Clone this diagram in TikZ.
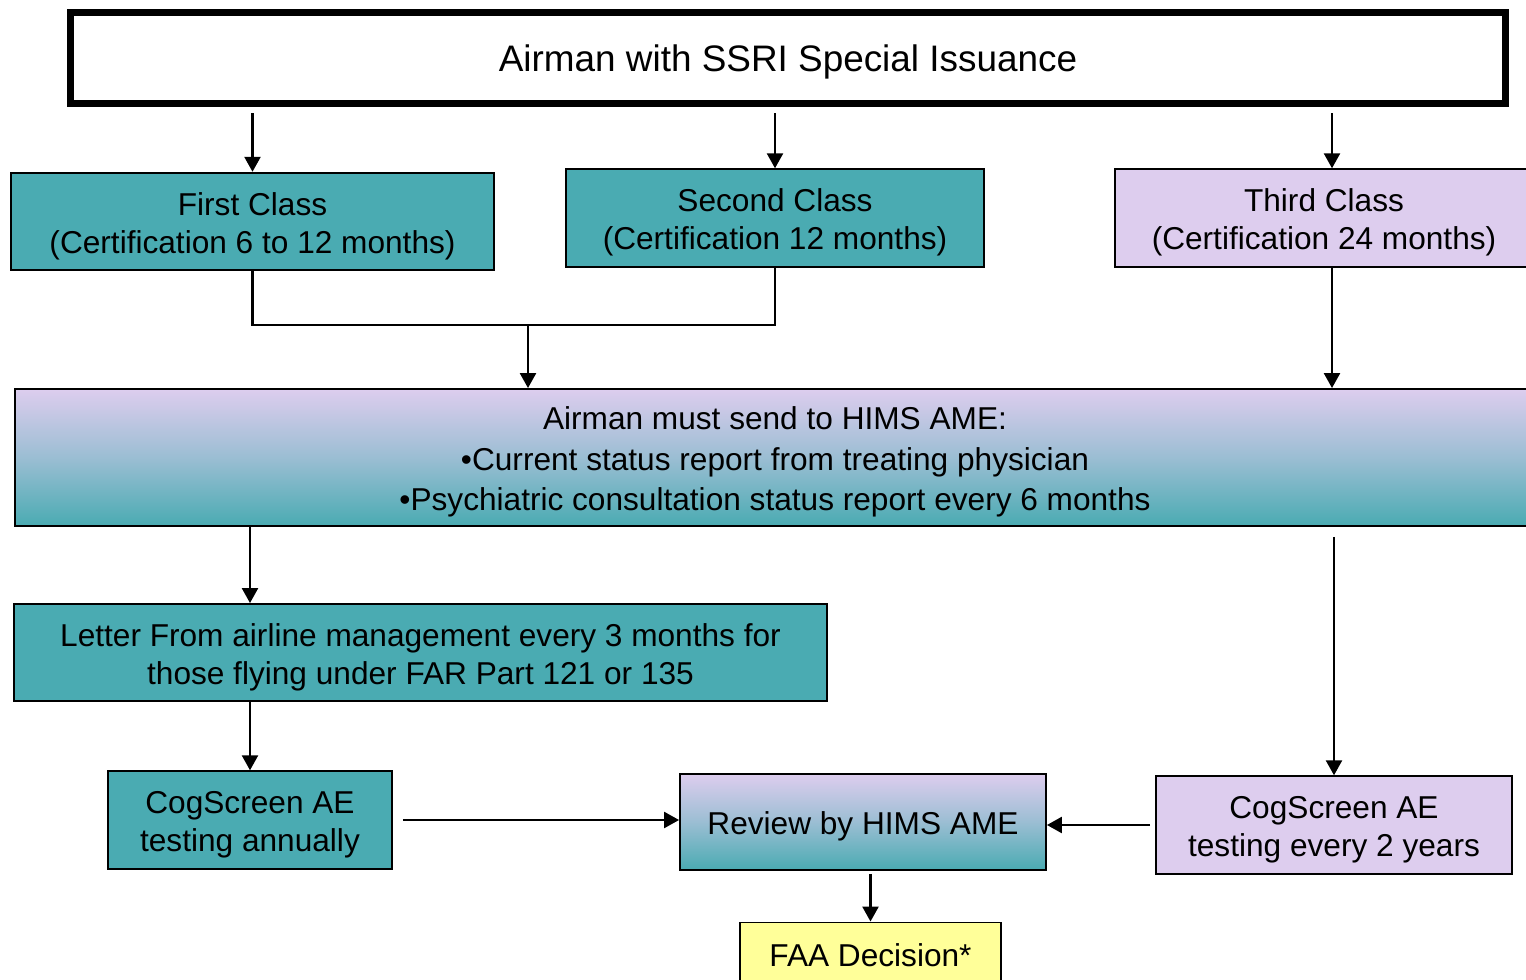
\documentclass[tikz,border=0pt]{standalone}
\usepackage{fontspec}
\setmainfont{Liberation Sans}
\usepackage{xcolor}
\usepackage{tikz}
\usetikzlibrary{arrows.meta,positioning,calc}
\definecolor{ssTeal}{HTML}{4AABB2}
\definecolor{ssLilac}{HTML}{DDCDEE}
\definecolor{ssLemon}{HTML}{FFFF99}
\newcommand{\lift}{\rule{0pt}{1.0em}}
\tikzset{
  flow box/.style={draw=black,line width=1.1pt,inner sep=0pt,align=center,
    font=\fontsize{18}{21.6}\selectfont,minimum height=1.95cm},
  teal box/.style={flow box,fill=ssTeal},
  lilac box/.style={flow box,fill=ssLilac},
  blend box/.style={flow box,top color=ssLilac,bottom color=ssTeal,middle color=ssLilac!55!ssTeal},
  flow line/.style={line width=1.4pt,draw=black},
  flow arrow/.style={flow line,-{Triangle[length=0.3cm,width=0.32cm]}}
}
\begin{document}
\begin{tikzpicture}[x=0.02cm,y=-0.02cm]
\useasboundingbox (0,0) rectangle (1526,980);
\node[draw=black,line width=4pt,fill=white,minimum width=28.7cm,minimum height=1.82cm,
  font=\fontsize{21}{25}\selectfont] (top) at (788,58) {\rule{0pt}{0.95em}Airman with SSRI Special Issuance};
\node[teal box,minimum width=9.66cm] (first) at (252.5,221.5) {\lift First Class\\(Certification 6 to 12 months)};
\node[teal box,minimum width=8.36cm] (second) at (775,218) {\lift Second Class\\(Certification 12 months)};
\node[lilac box,minimum width=8.36cm] (third) at (1324,218) {\lift Third Class\\(Certification 24 months)};
\node[blend box,minimum width=30.4cm,minimum height=2.74cm,font=\fontsize{18}{22.8}\selectfont] (hims) at (775,457.5)
  {\lift Airman must send to HIMS AME:\\•Current status report from treating physician\\•Psychiatric consultation status report every 6 months};
\node[teal box,minimum width=16.26cm,minimum height=1.94cm] (letter) at (420.5,652.5)
  {\lift Letter From airline management every 3 months for\\those flying under FAR Part 121 or 135};
\node[teal box,minimum width=5.68cm] (cogA) at (250,820) {\lift CogScreen AE\\testing annually};
\node[blend box,minimum width=7.32cm,minimum height=1.92cm] (review) at (863,822) {\rule{0pt}{0.97em}Review by HIMS AME};
\node[lilac box,minimum width=7.12cm] (cogB) at (1334,825) {\lift CogScreen AE\\testing every 2 years};
\node[flow box,fill=ssLemon,minimum width=5.22cm,minimum height=1.3cm] (faa) at (870.5,955) {FAA Decision*};
\coordinate (tx) at (1332,0);
\coordinate (merge) at (528,325);
\draw[flow arrow,shorten <=0.12cm] (top.south -| first.north) -- (first.north);
\draw[flow arrow,shorten <=0.12cm] (top.south -| second.north) -- (second.north);
\draw[flow arrow,shorten <=0.12cm] (top.south -| tx) -- (third.north -| tx);
\draw[flow line] (first.south) |- (merge) -| (second.south);
\draw[flow arrow] (merge) -- (merge |- hims.north);
\draw[flow arrow] (third.south -| tx) -- (hims.north -| tx);
\draw[flow arrow] (hims.south -| cogA.north) -- (letter.north -| cogA.north);
\draw[flow arrow] (letter.south -| cogA.north) -- (cogA.north);
\draw[flow arrow,shorten <=0.2cm] (hims.south -| cogB.north) -- (cogB.north);
\draw[flow arrow,shorten <=0.2cm] (cogA.east) -- (cogA.east -| review.west);
\draw[flow arrow,shorten <=0.1cm] (cogB.west) -- (cogB.west -| review.east);
\draw[flow arrow,shorten <=0.06cm] (review.south -| faa.north) -- (faa.north);
\end{tikzpicture}
\end{document}
